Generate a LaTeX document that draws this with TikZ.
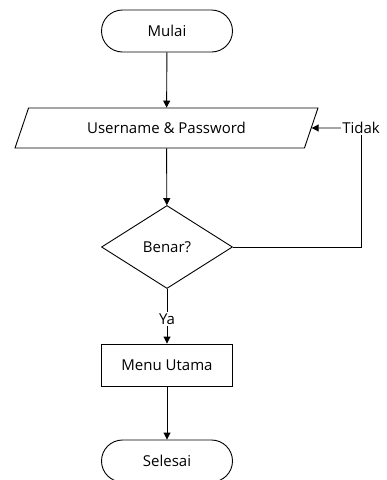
\documentclass[tikz,border=0pt]{standalone}
\usepackage{fontspec}
\setmainfont{Open Sans}
\usepackage{tikz}
\usetikzlibrary{arrows.meta,shapes.geometric,shapes.misc}

\begin{document}
\begin{tikzpicture}[x=1pt,y=-1pt,
			font=\fontsize{15}{18}\selectfont,
			line width=0.9pt,
			>={Triangle[length=7pt,width=7pt]},
			term node/.style={rounded rectangle,draw,minimum width=131pt,minimum height=42pt,inner sep=0pt},
			io node/.style={trapezium,draw,trapezium left angle=56,trapezium right angle=124,trapezium stretches=true,minimum width=303pt,minimum height=40pt,inner sep=0pt},
			cond node/.style={diamond,draw,minimum width=131pt,minimum height=83pt,inner sep=0pt},
			proc node/.style={rectangle,draw,minimum width=131pt,minimum height=42pt,inner sep=0pt},
			lbl node/.style={inner sep=1pt}
			]
			\useasboundingbox (0,0) rectangle (387,480);

			\node[term node] at (167,31) (mulai) {Mulai};
			\node[io node] at (166.5,128) (login) {Username \& Password};
			\node[cond node] at (167,247) (benar) {Benar?};
			\node[lbl node] at (167,319) (ya) {Ya};
			\node[proc node] at (167,365) (menu) {Menu Utama};
			\node[term node] at (167,461) (selesai) {Selesai};
			\node[lbl node] at (361,128) (tidak) {Tidak};

			\draw[->] (mulai) -- (login);
			\draw[->] (login) -- (benar);
			\draw (benar.south) -- (ya);
			\draw[->] (ya) -- (menu);
			\draw[->] (menu) -- (selesai);
			\draw (benar.east) -| (tidak.south);
			\draw[->] (tidak.west) -- (login.east);
		\end{tikzpicture}
\end{document}
